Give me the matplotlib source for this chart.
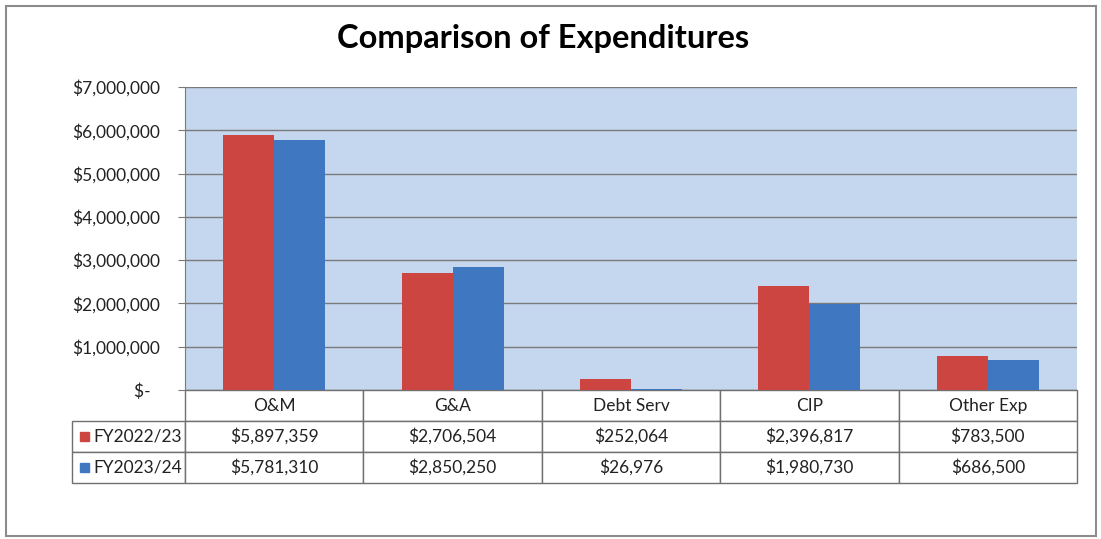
import matplotlib
matplotlib.use("Agg")
import numpy as np
from matplotlib import pyplot as plt
from matplotlib.patches import Rectangle
from matplotlib.ticker import FuncFormatter, MultipleLocator

categories = ["O&M", "G&A", "Debt Serv", "CIP", "Other Exp"]
series_names = ["FY2022/23", "FY2023/24"]
fy2223 = [5897359, 2706504, 252064, 2396817, 783500]
fy2324 = [5781310, 2850250, 26976, 1980730, 686500]
colors = ["#cc4541", "#3f78c1"]

plt.rcParams["font.family"] = ["Lato", "DejaVu Sans"]
FS = 12.5


def money(v, pos=None):
    if v == 0:
        return "$-  "
    return f"${v:,.0f}"


fig = plt.figure(figsize=(11.01, 5.39), dpi=100)
fig.patch.set_facecolor("white")

# outer chart border
fig.add_artist(Rectangle((6 / 1101, 3 / 539), 1090 / 1101, 530 / 539,
                         transform=fig.transFigure, fill=False,
                         edgecolor="#8c8c8c", linewidth=1.5))

ax = fig.add_axes([185 / 1101, 1 - 390 / 539, 892 / 1101, 303 / 539])
ax.set_facecolor("#c5d7ee")

x = np.arange(len(categories))
w = 0.286
ax.bar(x - w / 2, fy2223, width=w, color=colors[0], zorder=3)
ax.bar(x + w / 2, fy2324, width=w, color=colors[1], zorder=3)

ax.set_xlim(-0.5, len(categories) - 0.5)
ax.set_ylim(0, 7000000)
ax.yaxis.set_major_locator(MultipleLocator(1000000))
ax.yaxis.set_major_formatter(FuncFormatter(money))
ax.grid(axis="y", color="#7a7a7a", linewidth=1, zorder=1)
ax.tick_params(axis="y", length=5, color="#7a7a7a", labelsize=FS, pad=13,
               labelcolor="#222222")
ax.set_xticks([])
for s in ["top", "right", "bottom"]:
    ax.spines[s].set_visible(False)
ax.spines["left"].set_color("#7a7a7a")

# data table under the plot, first column holds the series names
header = [""] + categories
rows = [[series_names[0]] + [money(v) for v in fy2223],
        [series_names[1]] + [money(v) for v in fy2324]]
lab_w = 113 / 892
tbl = ax.table(cellText=rows,
               colLabels=header,
               colWidths=[lab_w] + [0.2] * len(categories),
               cellLoc="center",
               bbox=[-lab_w, -0.307, 1 + lab_w, 0.307])
tbl.auto_set_font_size(False)
tbl.set_fontsize(FS)
for (r, c), cell in tbl.get_celld().items():
    cell.set_edgecolor("#707070")
    cell.set_linewidth(1)
    cell.set_facecolor("white")
    cell.get_text().set_color("#222222")
    if c == 0:
        if r == 0:
            cell.set_visible(False)
        else:
            cell._loc = "left"
            cell.PAD = 0.19
            cell.get_text().set_horizontalalignment("left")

# legend keys in the series-name cells
for i, c in enumerate(colors):
    yc = -(46.5 + 31 * i) / 303
    ax.add_patch(Rectangle((-105 / 892, yc - 4.5 / 303), 9 / 892, 9 / 303,
                           transform=ax.transAxes, color=c, clip_on=False))

fig.text(543 / 1101, 1 - 48 / 539, "Comparison of Expenditures",
         ha="center", va="baseline", fontsize=23.5, fontweight="bold")

fig.savefig("out.png", dpi=100)
